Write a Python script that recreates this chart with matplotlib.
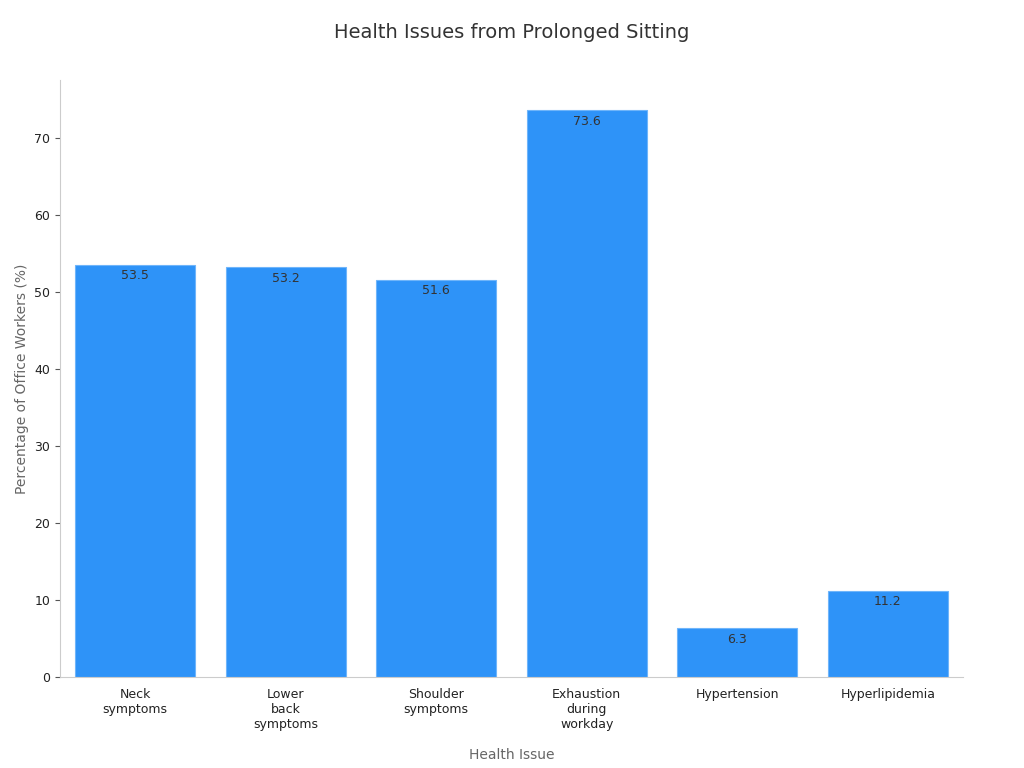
import matplotlib
matplotlib.use("Agg")
import matplotlib.pyplot as plt

categories = ["Neck\nsymptoms", "Lower\nback\nsymptoms", "Shoulder\nsymptoms",
              "Exhaustion\nduring\nworkday", "Hypertension", "Hyperlipidemia"]
values = [53.5, 53.2, 51.6, 73.6, 6.3, 11.2]

fig = plt.figure(figsize=(10.24, 7.68), dpi=100)
ax = fig.add_axes([60/1024, 1-677/768, (963-60)/1024, (677-80)/768])

x = range(len(categories))
bars = ax.bar(x, values, width=0.8, color="#2E93F8", edgecolor="#6FB5FA", linewidth=0.8)
for b, v in zip(bars, values):
    ax.text(b.get_x() + b.get_width()/2, v - 0.6, f"{v}", ha="center", va="top",
            fontsize=9, color="#333333")

ax.set_xlim(-0.5, 5.5)
ax.set_ylim(0, 77.5)
ax.set_xticks(list(x))
ax.set_xticklabels(categories, fontsize=9, color="#222222")
ax.set_yticks(range(0, 80, 10))
ax.tick_params(axis="y", labelsize=9, labelcolor="#222222", color="#555555")
ax.tick_params(axis="x", length=0, pad=8)
for s in ["top", "right"]:
    ax.spines[s].set_visible(False)
ax.spines["left"].set_color("#cccccc")
ax.spines["bottom"].set_color("#cccccc")

ax.set_xlabel("Health Issue", fontsize=10, color="#666666", labelpad=12)
ax.set_ylabel("Percentage of Office Workers (%)", fontsize=10, color="#666666")
fig.suptitle("Health Issues from Prolonged Sitting", fontsize=14, color="#333333", y=0.97)

fig.savefig("out.png", dpi=100)
